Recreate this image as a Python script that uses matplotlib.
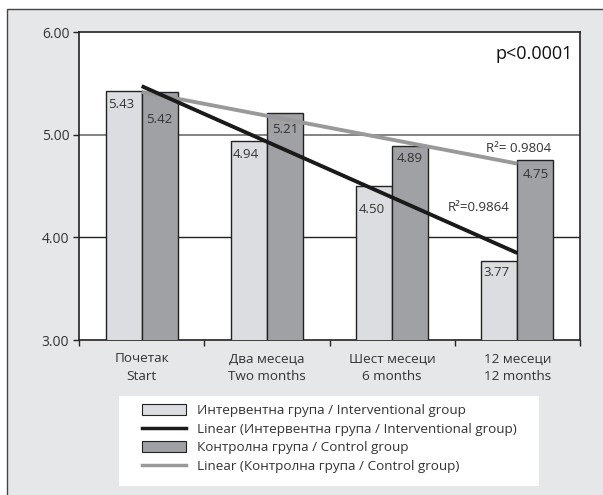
import numpy as np
import matplotlib.pyplot as plt
from matplotlib.patches import Rectangle, Patch
from matplotlib.lines import Line2D

plt.rcParams['font.family'] = ['Open Sans', 'DejaVu Sans']

### Data
categories = ['Почетак\nStart', 'Два месеца\nTwo months', 'Шест месеци\n6 months', '12 месеци\n12 months']
interventional = [5.43, 4.94, 4.50, 3.77]
control = [5.42, 5.21, 4.89, 4.75]
r2_interventional = 'R²=0.9864'
r2_control = 'R²= 0.9804'
p_text = 'p<0.0001'
legend_labels = ['Интервентна група / Interventional group',
                 'Linear (Интервентна група / Interventional group)',
                 'Контролна група / Control group',
                 'Linear (Контролна група / Control group)']

light = '#dcdde0'
dark = '#a0a1a5'
txt = '#333333'

fig = plt.figure(figsize=(6.03, 4.95), dpi=100, facecolor='white')

## gray panel with border
fig.patches.append(Rectangle((7/603, -0.1), 1.0, 1 - 9/495 + 0.1, transform=fig.transFigure,
                             facecolor='#e6e7e8', edgecolor='#444444', linewidth=1.0, zorder=-2))
## white legend box
fig.patches.append(Rectangle((119/603, 1 - 486/495), 420/603, 90/495, transform=fig.transFigure,
                             facecolor='white', edgecolor='none', zorder=-1))

ax = fig.add_axes([79/603, 1 - 340/495, 501/603, 308/495])
ax.set_facecolor('white')

x = np.arange(len(categories))
w = 0.288
ax.bar(x - w/2, interventional, w, color=light, edgecolor='#222222', linewidth=1.0, zorder=3)
ax.bar(x + w/2, control, w, color=dark, edgecolor='#222222', linewidth=1.0, zorder=3)

## gridlines
ax.axhline(5.0, color='#7a7a7a', linewidth=1.3, zorder=1)
ax.axhline(4.0, color='#222222', linewidth=1.0, zorder=1)

## linear trend lines
k1, b1 = np.polyfit(x, interventional, 1)
k2, b2 = np.polyfit(x, control, 1)
ax.plot([x[0], x[-1]], [b2, b2 + k2*x[-1]], color='#999999', linewidth=2.8, zorder=4, solid_capstyle='butt')
ax.plot([x[0], x[-1]], [b1, b1 + k1*x[-1]], color='#1a1a1a', linewidth=2.8, zorder=5, solid_capstyle='butt')

## value labels (offset in points below bar top)
off_i = [10, 10, 17, 8]
off_c = [20, 12, 9, 10]
for i in range(len(x)):
    ax.annotate('%.2f' % interventional[i], (x[i] - w/2, interventional[i]), xytext=(-2, -off_i[i]),
                textcoords='offset points', ha='center', va='center', fontsize=9.5, color=txt, zorder=6)
    ax.annotate('%.2f' % control[i], (x[i] + w/2, control[i]), xytext=(0, -off_c[i]),
                textcoords='offset points', ha='center', va='center', fontsize=9.5, color=txt, zorder=6)

ax.text(2.69, 4.29, r2_interventional, fontsize=9.5, color=txt, ha='center', va='center', zorder=6)
ax.text(3.01, 4.87, r2_control, fontsize=9.5, color=txt, ha='center', va='center', zorder=6)
ax.text(0.985, 0.93, p_text, transform=ax.transAxes, fontsize=13, color='#111111', ha='right', va='center')

ax.set_xlim(-0.5, len(categories) - 0.5)
ax.set_ylim(3, 6)
ax.set_yticks([3, 4, 5, 6])
ax.set_yticklabels(['3.00', '4.00', '5.00', '6.00'])
ax.set_xticks(np.arange(len(categories) + 1) - 0.5)
ax.set_xticklabels([])
ax.set_xticks(x, minor=True)
ax.set_xticklabels(categories, minor=True)
ax.tick_params(axis='x', which='minor', length=0, pad=9, labelsize=9.7, labelcolor=txt)
ax.tick_params(axis='x', which='major', length=4, width=1, color='#222222')
ax.tick_params(axis='y', length=4, width=1, color='#222222', labelsize=10, labelcolor=txt, pad=3)
for lbl in ax.get_xticklabels(minor=True):
    lbl.set_linespacing(1.5)
for s in ax.spines.values():
    s.set_color('#222222')
    s.set_linewidth(1.2)

## legend
handles = [Patch(facecolor=light, edgecolor='#222222', linewidth=0.8),
           Line2D([], [], color='#1a1a1a', linewidth=2.5),
           Patch(facecolor=dark, edgecolor='#222222', linewidth=0.8),
           Line2D([], [], color='#999999', linewidth=2.5)]
leg = fig.legend(handles, legend_labels, loc='upper left', bbox_to_anchor=(142/603, 1 - 404/495),
                 frameon=False, fontsize=9.7, handlelength=3.3, handleheight=0.9, handletextpad=0.8,
                 labelspacing=0.4, borderpad=0, borderaxespad=0)
for t in leg.get_texts():
    t.set_color(txt)

fig.savefig('out.png', dpi=100, facecolor=fig.get_facecolor())
